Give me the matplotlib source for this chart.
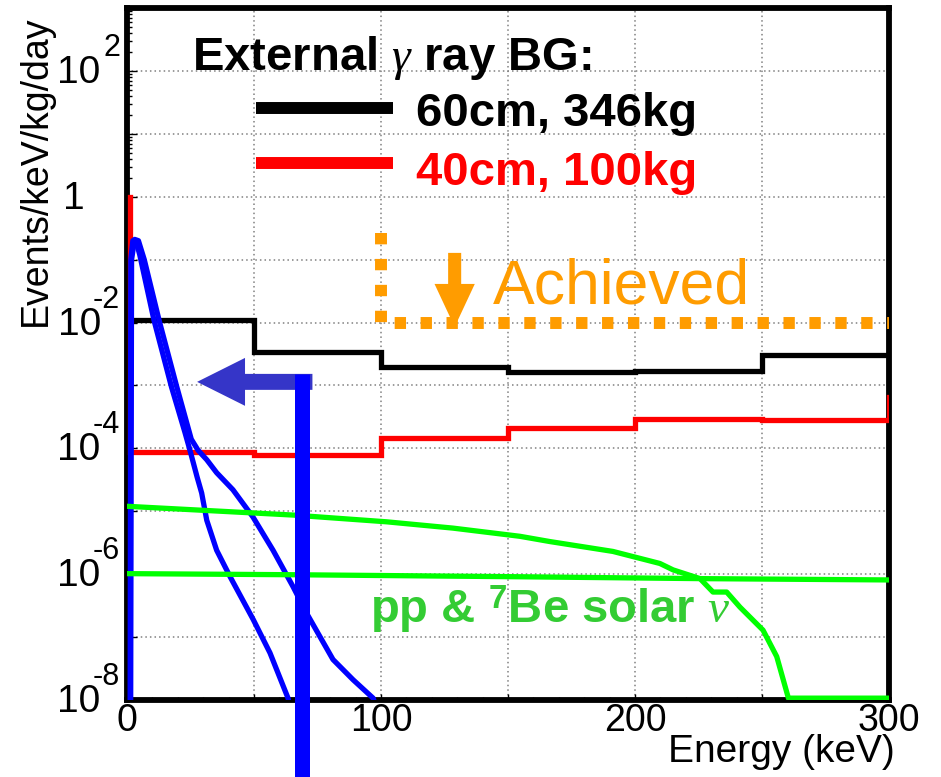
import numpy as np
import matplotlib
matplotlib.use("Agg")
import matplotlib.pyplot as plt
from matplotlib.lines import Line2D
from matplotlib.ticker import FixedLocator, FuncFormatter, NullFormatter
from matplotlib.transforms import blended_transform_factory, offset_copy

plt.rcParams['font.family'] = ['Liberation Sans', 'DejaVu Sans']
plt.rcParams['mathtext.fontset'] = 'custom'
plt.rcParams['mathtext.rm'] = 'Liberation Sans'
plt.rcParams['mathtext.sf'] = 'Liberation Sans'
plt.rcParams['mathtext.bf'] = 'Liberation Sans:bold'
plt.rcParams['mathtext.it'] = 'Liberation Serif:italic'

# ---------------- data ----------------
# external gamma BG, 60cm / 346kg (black histogram)
black_edges = [0, 50, 100, 150, 200, 250, 300]
black_values = [1.1e-2, 3.4e-3, 2.0e-3, 1.65e-3, 1.68e-3, 3.05e-3]

# external gamma BG, 40cm / 100kg (red histogram)
red_edges = [1.3, 50, 100, 150, 200, 250, 300]
red_values = [8.7e-5, 7.9e-5, 1.45e-4, 2.09e-4, 2.9e-4, 2.8e-4]
red_first = 1.0
red_last = 6.6e-4

# blue curves
blueA_E = [1.2, 1.5, 2.3, 3.5, 5.0, 10.6, 17.5, 22.8, 24.8, 27.6, 29.4, 31.4,
           35.3, 40.6, 49.7, 56.3, 63.4, 64.5]
blueA_V = [1e-9, 0.10, 0.20, 0.20, 0.12, 1.1e-2, 9.5e-4, 1.8e-4, 9.3e-5, 3.5e-5,
           1.95e-5, 7.2e-6, 2.4e-6, 9.1e-7, 1.9e-7, 5.6e-8, 1.07e-8, 6.3e-9]
blueB_E = [1.4, 1.8, 3.0, 4.5, 6.8, 12.6, 19.6, 25.3, 28.0, 31.4, 35.3, 41.7,
           49.6, 57.5, 65.4, 70.7, 81.1, 89.0, 96.9, 98.0]
blueB_V = [1e-9, 0.10, 0.21, 0.20, 0.10, 1.1e-2, 9.5e-4, 1.4e-4, 9.3e-5, 6.6e-5,
           4.1e-5, 2.2e-5, 8.1e-6, 2.4e-6, 6.3e-7, 2.4e-7, 4.4e-8, 2.1e-8,
           1.07e-8, 7.9e-9]

# solar neutrinos (green)
pp_E = [0, 65.5, 102.2, 128.3, 154.7, 166.5, 191.3, 209.8, 215, 225.6, 230.7,
        236.1, 241.3, 250.4, 255.8, 260.4, 300]
pp_V = [1.2e-5, 8.7e-6, 6.8e-6, 5.4e-6, 4.0e-6, 3.3e-6, 2.3e-6, 1.48e-6, 1.17e-6,
        8.5e-7, 5.2e-7, 5.2e-7, 3.0e-7, 1.29e-7, 4.9e-8, 1.07e-8, 1.07e-8]
be7_E = [0, 65.5, 154.7, 225.6, 300]
be7_V = [1.02e-6, 9.8e-7, 9.1e-7, 8.5e-7, 8.1e-7]

# achieved level (orange dotted)
achieved_E = [100, 100, 300]
achieved_V = [0.265, 1.0e-2, 1.0e-2]

x_ticks = [0, 50, 100, 150, 200, 250, 300]
x_minor = list(range(0, 301, 10))
y_decades = list(range(-8, 4))
y_label_decades = [2, 0, -2, -4, -6, -8]


def steps(edges, values):
    x = np.repeat(edges, 2)[1:-1]
    y = np.repeat(values, 2)
    return x, y


# ---------------- figure ----------------
W, H = 941, 777
fig = plt.figure(figsize=(W / 100, H / 100), dpi=100)
ax = fig.add_axes([127 / W, 1 - 700 / H, (889 - 127) / W, (700 - 8) / H])
ax.set_yscale('log')
ax.set_xlim(0, 300)
ax.set_ylim(1e-8, 1e3)

lw = 3.8
bx, by = steps(black_edges, black_values)
ax.plot(bx, by, color='black', lw=lw, solid_joinstyle='miter', zorder=3)
rx, ry = steps(red_edges, red_values)
rx = np.concatenate([[red_edges[0]], rx, [red_edges[-1]]])
ry = np.concatenate([[red_first], ry, [red_last]])
ax.plot(rx, ry, color='#ff0000', lw=lw, solid_joinstyle='miter', zorder=3)
ax.plot(blueA_E, blueA_V, color='#0000ff', lw=lw, zorder=3)
ax.plot(blueB_E, blueB_V, color='#0000ff', lw=lw, zorder=3)
ax.plot(pp_E, pp_V, color='#00ff00', lw=lw, zorder=3)
ax.plot(be7_E, be7_V, color='#00ff00', lw=lw, zorder=3)
ax.plot(achieved_E, achieved_V, color='#ff9c00', lw=8.6,
        linestyle=(0, (0.95, 1.22)), dash_capstyle='butt', zorder=4)

# orange down arrow
ax.annotate('', xy=(129, 8.5e-3), xytext=(129, 0.128),
            arrowprops=dict(arrowstyle='simple,head_length=31,head_width=29,tail_width=9.4',
                            mutation_scale=1, color='#ff9c00', lw=0,
                            shrinkA=0, shrinkB=0), zorder=5)
# blue arrow (horizontal part)
ax.annotate('', xy=(27.6, 1.14e-3), xytext=(73, 1.14e-3),
            arrowprops=dict(arrowstyle='simple,head_length=34.5,head_width=34.5,tail_width=11.5',
                            mutation_scale=1, color='#3535c8', lw=0,
                            shrinkA=0, shrinkB=0), zorder=6)
# blue arrow (vertical part)
ax.plot([69, 69], [1.52e-3, 4e-10], color='#0000ff', lw=10.8,
        solid_capstyle='butt', clip_on=False, zorder=7)

# ---------------- axes styling ----------------
for s in ax.spines.values():
    s.set_linewidth(4.2)
    s.set_color('black')

ax.xaxis.set_major_locator(FixedLocator(x_ticks))
ax.xaxis.set_minor_locator(FixedLocator(x_minor))
ax.xaxis.set_major_formatter(FuncFormatter(lambda v, p: f"{int(v)}" if int(v) % 100 == 0 else ""))
ax.yaxis.set_major_locator(FixedLocator([10.0 ** d for d in y_decades]))
ax.yaxis.set_minor_locator(FixedLocator([m * 10.0 ** d for d in y_decades for m in range(2, 10)]))
ax.yaxis.set_major_formatter(NullFormatter())
ax.yaxis.set_minor_formatter(NullFormatter())

ax.tick_params(which='both', direction='in', top=False, right=False, color='black', width=1.0)
ax.tick_params(axis='x', which='major', length=4.5, pad=2, labelsize=27)
ax.tick_params(axis='x', which='minor', length=2.5)
ax.tick_params(axis='y', which='major', length=7)
ax.tick_params(axis='y', which='minor', length=3.5)

ax.set_axisbelow(True)
ax.grid(True, which='major', color='#808080', linestyle=(0, (1, 2)), lw=1.1)

# y tick labels in ROOT style: "10" with a large exponent
trans = blended_transform_factory(ax.transAxes, ax.transData)
renderer = fig.canvas.get_renderer()
ax_left_px = ax.transAxes.transform((0, 0))[0]
for d in y_label_decades:
    yv = 10.0 ** d
    if d == 0:
        ax.text(0, yv, '1', transform=offset_copy(trans, fig=fig, x=-42, y=-12, units='dots'),
                ha='right', va='baseline', fontsize=28)
        continue
    te = ax.text(0, yv, f'{d}', transform=offset_copy(trans, fig=fig, x=-7, y=15, units='dots'),
                 ha='right', va='baseline', fontsize=22)
    bb = te.get_window_extent(renderer)
    ov = 8 if d < 0 else -3
    ax.text(0, yv, '10',
            transform=offset_copy(trans, fig=fig, x=bb.x0 + ov - ax_left_px, y=-12, units='dots'),
            ha='right', va='baseline', fontsize=28)

# ---------------- texts ----------------
fig.text(0.038, 1 - 16 / H, 'Events/keV/kg/day', rotation=90, ha='center', va='top',
         fontsize=27)
fig.text(895 / W, 1 - 762 / H, 'Energy (keV)', ha='right', va='baseline', fontsize=28)

fig.text(192 / W, 1 - 70 / H, r'External $\gamma$ ray BG:', fontsize=34,
         fontweight='bold', va='baseline')
fig.text(416.5 / W, 1 - 126 / H, '60cm, 346kg', fontsize=34, fontweight='bold',
         va='baseline', color='black')
fig.text(416.5 / W, 1 - 185 / H, '40cm, 100kg', fontsize=34, fontweight='bold',
         va='baseline', color='#ff0000')
fig.add_artist(Line2D([256 / W, 393 / W], [1 - 108 / H, 1 - 108 / H], color='black',
                      lw=8.6, solid_capstyle='butt', transform=fig.transFigure))
fig.add_artist(Line2D([256 / W, 393 / W], [1 - 163 / H, 1 - 163 / H], color='#ff0000',
                      lw=8.6, solid_capstyle='butt', transform=fig.transFigure))

fig.text(493 / W, 1 - 303 / H, 'Achieved', fontsize=45, color='#ff9c00', va='baseline')
fig.text(370 / W, 1 - 623 / H, r'pp & ${}^{\mathbf{7}}$Be solar $\nu$', fontsize=34,
         fontweight='bold', color='#33cc33', va='baseline')

fig.savefig('out.png', dpi=100, facecolor='white')
